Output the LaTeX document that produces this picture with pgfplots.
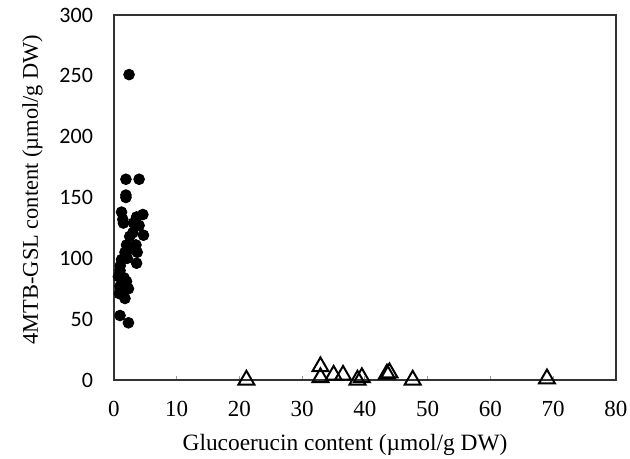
\documentclass[border=0pt]{standalone}
\usepackage{pgfplots}
\pgfplotsset{compat=1.18}
\usepackage{fontspec}
\setmainfont{Liberation Serif}
\newfontfamily\calib{Carlito}

\begin{document}
\begin{tikzpicture}
\useasboundingbox (-57pt,-39.5pt) rectangle (258pt,190pt);
\begin{axis}[
	scale only axis,
	width=251pt, height=182.5pt,
	xmin=0, xmax=80, ymin=0, ymax=300,
	xtick={0,10,...,80}, ytick={0,50,...,300},
	axis line style={black!80, line width=0.9pt},
	tick align=inside,
	major tick length=2pt,
	x tick style={black!40, line width=0.5pt},
	y tick style={draw=none},
	xtick pos=bottom, ytick pos=left,
	/pgf/number format/assume math mode=true,
	x tick label style={font=\fontsize{11.5}{13}\selectfont, yshift=-7pt},
	y tick label style={font=\calib\fontsize{11}{12}\selectfont, xshift=-7pt},
	xlabel={Glucoerucin content (µmol/g DW)},
	ylabel={4MTB-GSL content (µmol/g DW)},
	xlabel style={font=\fontsize{11.7}{14}\selectfont, yshift=-2pt, xshift=-10pt},
	ylabel style={font=\fontsize{11.2}{13}\selectfont, yshift=1.5pt, xshift=4pt},
	clip=false,
]
\addplot[only marks, mark=*, mark size=2.7pt, black] coordinates {
(2.4,251) (1.9,165) (4.0,165) (1.9,152) (1.9,150) (1.2,138) (1.5,129)
(4.6,136) (3.6,134) (3.1,129) (4.0,127) (3.0,121) (4.7,119) (2.0,111)
(3.5,111) (1.75,105) (3.7,105) (3.6,96) (1.2,99) (0.96,90) (0.7,85)
(2.0,81) (2.3,75) (0.96,77) (1.75,67) (0.85,71) (0.96,53) (2.3,47)
(1.4,132) (2.5,118) (2.7,108) (1.0,94) (1.6,84) (1.3,73) (2.1,100)
};
\addplot[only marks, mark=triangle, mark size=4.6pt, black, line width=1pt,
	mark options={fill=white}] coordinates {
(21.1,0) (32.9,11) (32.9,2) (35.0,4) (36.5,4) (38.8,0) (39.5,2)
(43.5,5) (43.9,6) (47.6,0) (69.0,1)
};
\end{axis}
\end{tikzpicture}
\end{document}
